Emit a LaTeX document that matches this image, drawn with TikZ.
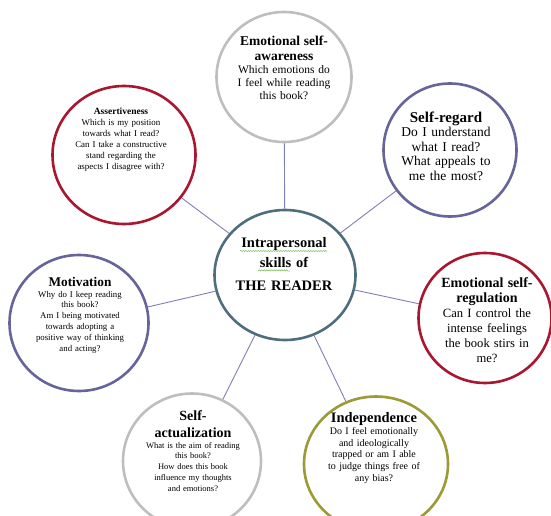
\documentclass[tikz,border=0pt]{standalone}
\usepackage{fontspec}
\setmainfont{Liberation Serif}
\usetikzlibrary{shapes.geometric,decorations.pathmorphing}
\definecolor{ringgrey}{RGB}{190,190,190}
\definecolor{ringred}{RGB}{168,22,48}
\definecolor{ringpurple}{RGB}{102,100,154}
\definecolor{ringslate}{RGB}{78,110,126}
\definecolor{ringolive}{RGB}{156,154,52}
\definecolor{linkline}{RGB}{128,126,184}
\definecolor{squiggle}{RGB}{120,190,90}
\newcommand{\sizeto}[2]{\fontsize{#1}{#2}\selectfont}

\begin{document}
\begin{tikzpicture}[x=1pt, y=-1pt,
    skill/.style={ellipse, draw, line width=2.6pt, inner sep=0pt},
    link/.style={draw=linkline, line width=0.9pt},
    question/.style={align=center, text width=140, inner sep=0pt}]
  \useasboundingbox (0,0) rectangle (551,516);
  %\draw[lightgray] (0,0) grid[step=50] (551,516);

  % rings
  \node[skill, draw=ringslate, minimum width=141, minimum height=130] (reader) at (285,275) {};
  \node[skill, draw=ringgrey, minimum width=135, minimum height=130] (awareness) at (284,77) {};
  \node[skill, draw=ringred, minimum width=143, minimum height=138] (assert) at (124,155) {};
  \node[skill, draw=ringpurple, minimum width=133, minimum height=133] (regard) at (450,150) {};
  \node[skill, draw=ringpurple, minimum width=139, minimum height=136] (motivation) at (79,323) {};
  \node[skill, draw=ringred, minimum width=133, minimum height=130] (regulation) at (485,318) {};
  \node[skill, draw=ringgrey, minimum width=138, minimum height=135] (actualize) at (192,461) {};
  \node[skill, draw=ringolive, minimum width=144, minimum height=135] (independ) at (376,464) {};

  % spokes
  \draw[link] (awareness) -- (reader);
  \draw[link] (assert) -- (reader);
  \draw[link] (regard) -- (reader);
  \draw[link] (motivation) -- (reader);
  \draw[link] (regulation) -- (reader);
  \draw[link] (actualize) -- (reader);
  \draw[link] (independ) -- (reader);

  % texts
  \node[question, font=\sizeto{14.5}{20}\bfseries] (readertext) at (284,264)
    {Intrapersonal\\ skills of\\[3pt] THE READER};
  \draw[squiggle, line width=0.5pt, decorate, decoration={snake, amplitude=0.6pt, segment length=2.5pt}]
    (240,251) -- (327,251) (258,271) -- (290,271);

  \node[question, font=\sizeto{11.5}{13}] (awarenesstext) at (284,68)
    {{\bfseries\sizeto{13.5}{15}Emotional self-\\ awareness\par}
     Which emotions do\\ I feel while reading\\ this book?};
  \node[question, font=\sizeto{8.9}{11}] (asserttext) at (121,140)
    {{\bfseries\sizeto{9.5}{11}Assertiveness\par}
     Which is my position\\ towards what I read?\\ Can I take a constructive\\ stand regarding the\\ aspects I disagree with?};
  \node[question, font=\sizeto{13.5}{14.5}] (regardtext) at (446,146)
    {{\bfseries\sizeto{15}{16}Self-regard\par}
     Do I understand\\ what I read?\\ What appeals to\\ me the most?};
  \node[question, font=\sizeto{8.8}{10.8}] (motivationtext) at (80,315)
    {{\bfseries\sizeto{13.3}{15}Motivation\par}
     Why do I keep reading\\ this book?\\ Am I being motivated\\ towards adopting a\\ positive way of thinking\\ and acting?};
  \node[question, font=\sizeto{12.6}{15}] (regulationtext) at (487,320)
    {{\bfseries\sizeto{14}{15}Emotional self-\\ regulation\par}
     Can I control the\\ intense feelings\\ the book stirs in\\ me?};
  \node[question, font=\sizeto{8.5}{10.8}] (actualizetext) at (193,451)
    {{\bfseries\sizeto{14}{17}Self-\\ actualization\par}
     What is the aim of reading\\ this book?\\ How does this book\\ influence my thoughts\\ and emotions?};
  \node[question, font=\sizeto{10}{11.8}] (independtext) at (374,448)
    {{\bfseries\sizeto{14.5}{16}Independence\par}
     Do I feel emotionally\\ and ideologically\\ trapped or am I able\\ to judge things free of\\ any bias?};
\end{tikzpicture}
\end{document}
